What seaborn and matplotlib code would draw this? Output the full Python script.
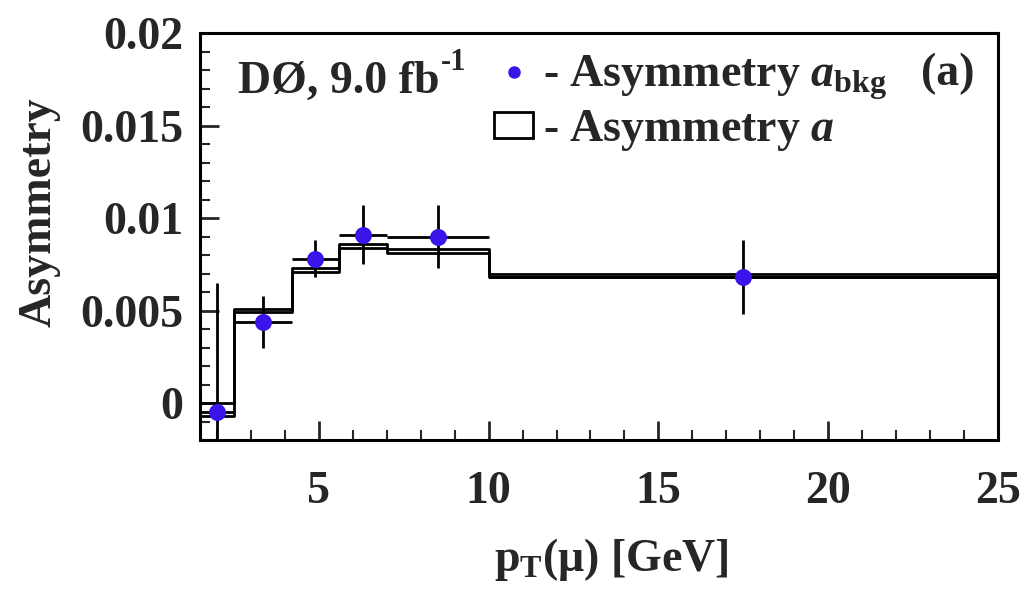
import numpy as np
import pandas as pd
import matplotlib
matplotlib.use("Agg")
import matplotlib.pyplot as plt
from matplotlib.lines import Line2D
from matplotlib.patches import Rectangle
from matplotlib.ticker import MultipleLocator, FuncFormatter
import seaborn as sns

# Muon pT bins [GeV]
bin_edges = [1.5, 2.5, 4.2, 5.6, 7.0, 10.0, 25.0]
# Background asymmetry a_bkg per bin and its uncertainty
a_bkg = [-0.0005, 0.0044, 0.0078, 0.0091, 0.0090, 0.0068]
a_bkg_err = [0.0070, 0.0014, 0.0010, 0.0016, 0.0017, 0.0020]
# Asymmetry a per bin (band centre and half-width)
a_val = [-0.00035, 0.0050, 0.0072, 0.0085, 0.0082, 0.0069]
a_err = [0.00035, 0.0001, 0.0001, 0.0001, 0.0001, 0.0001]

x_ticks = [5, 10, 15, 20, 25]
y_ticks = [0, 0.005, 0.01, 0.015, 0.02]

sns.set_style("ticks")
plt.rcParams["font.family"] = ["Liberation Serif", "DejaVu Serif"]
plt.rcParams["font.weight"] = "bold"
plt.rcParams["mathtext.fontset"] = "custom"
plt.rcParams["mathtext.rm"] = "Liberation Serif:bold"
plt.rcParams["mathtext.it"] = "Liberation Serif:bold:italic"
plt.rcParams["mathtext.bf"] = "Liberation Serif:bold"

FS = 33
marker_color = "#3a14e8"

edges = np.array(bin_edges)
centers = 0.5 * (edges[:-1] + edges[1:])
vals = np.array(a_val)
errs = np.array(a_err)
upper = vals + errs
lower = vals - errs

fig = plt.figure(figsize=(10.27, 5.90), dpi=100)
ax = fig.add_axes([0.1947, 0.2542, 0.777, 0.6898])

# Asymmetry a drawn as an outlined band: upper and lower step edges
for edge_vals in (upper, lower):
    df = pd.DataFrame({"pt": edges, "asym": np.append(edge_vals, edge_vals[-1])})
    sns.lineplot(data=df, x="pt", y="asym", drawstyle="steps-post", color="black",
                 lw=2.0, estimator=None, sort=False, ax=ax, zorder=2)

# Background asymmetry points with bin-width horizontal bars
pts = pd.DataFrame({"pt": centers, "asym": a_bkg})
ax.errorbar(centers, a_bkg, yerr=a_bkg_err,
            xerr=[centers - edges[:-1], edges[1:] - centers],
            fmt="none", ecolor="black", elinewidth=2.0, capsize=0, zorder=3)
sns.scatterplot(data=pts, x="pt", y="asym", s=150, color=marker_color,
                edgecolor=marker_color, linewidth=0, ax=ax, zorder=4)

ax.set_xlim(1.5, 25)
ax.set_ylim(-0.002, 0.02)
ax.set_xticks(x_ticks)
ax.set_yticks(y_ticks)
ax.xaxis.set_minor_locator(MultipleLocator(1))
ax.yaxis.set_minor_locator(MultipleLocator(0.001))
ax.yaxis.set_major_formatter(FuncFormatter(lambda v, p: f"{v:g}"))
ax.tick_params(axis="both", which="major", direction="in", length=14, width=2,
               labelsize=FS, top=False, right=False)
ax.tick_params(axis="both", which="minor", direction="in", length=7, width=1.5,
               top=False, right=False)
ax.tick_params(axis="x", which="major", pad=22)
ax.tick_params(axis="y", which="major", pad=12)
for s in ax.spines.values():
    s.set_linewidth(2.2)
    s.set_visible(True)
    s.set_color("black")

ax.set_xlabel(r"p$_\mathregular{T}$(μ) [GeV]", fontsize=FS, fontweight="bold")
ax.set_ylabel("Asymmetry", fontsize=FS, fontweight="bold")
ax.xaxis.set_label_coords(0.515, -0.235)
ax.yaxis.set_label_coords(-0.175, 0.56)

# Annotations and legend
t = ax.text(0.048, 0.853, "DØ, 9.0 fb", transform=ax.transAxes,
            fontsize=FS, fontweight="bold", ha="left", va="baseline")
ax.annotate("-1", xy=(1.0, 0.62), xycoords=t, fontsize=22, fontweight="bold",
            ha="left", va="bottom", xytext=(1, 0), textcoords="offset points")
ax.text(0.903, 0.872, "(a)", transform=ax.transAxes,
        fontsize=FS, fontweight="bold", ha="left", va="baseline")
handles = [
    Line2D([0], [0], marker="o", linestyle="none", markersize=8,
           markerfacecolor=marker_color, markeredgecolor=marker_color),
    Rectangle((0, 0), 1, 1, facecolor="white", edgecolor="black", lw=2),
]
labels = [r"- Asymmetry $\mathit{a}_{\mathrm{bkg}}$", r"- Asymmetry $\mathit{a}$"]
ax.legend(handles, labels, loc="upper left", bbox_to_anchor=(0.346, 0.995),
          frameon=False, fontsize=FS, handlelength=0.85, handleheight=0.5,
          handletextpad=0.2, labelspacing=0.14, borderaxespad=0.0)

fig.savefig("out.png", dpi=100)
